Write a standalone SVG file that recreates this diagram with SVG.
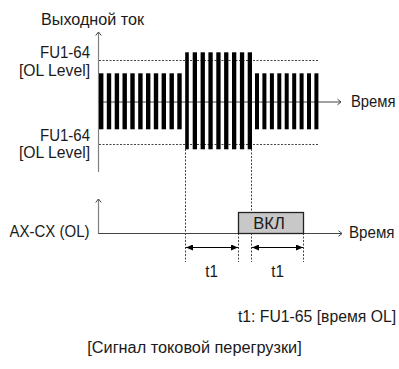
<svg xmlns="http://www.w3.org/2000/svg" width="399" height="369" viewBox="0 0 399 369">
<defs>
<marker id="open" markerWidth="7" markerHeight="8" refX="5" refY="4" orient="auto" markerUnits="userSpaceOnUse"><path d="M1.5,1.2 L5,4 L1.5,6.8" fill="none" stroke="#444" stroke-width="1"/></marker>
<marker id="solid" markerWidth="7" markerHeight="6" refX="7" refY="3" orient="auto-start-reverse" markerUnits="userSpaceOnUse"><path d="M0,0 L7,3 L0,6 z" fill="#000"/></marker>
</defs>
<style>
.t{font-family:"Liberation Sans","Noto Sans",sans-serif;font-size:16px;fill:#1a1a1a}
.dot{stroke:#444;stroke-width:1;stroke-dasharray:2 1.5;fill:none}
.bar{fill:#000}
.ax{stroke:#808080;stroke-width:1.2;fill:none}
.axh{stroke:#444;stroke-width:1.2;fill:none}
</style>
<g id="upper-chart">
<line class="dot" x1="99" y1="60.5" x2="319" y2="60.5"/>
<line class="dot" x1="99" y1="144.5" x2="319" y2="144.5"/>
<line class="ax" x1="98.5" y1="172" x2="98.5" y2="32" marker-end="url(#open)"/>
<line class="axh" x1="98.5" y1="102" x2="341" y2="102" marker-end="url(#open)"/>
<g id="pulses">
<rect class="bar" x="99" y="73.3" width="4.4" height="56"/>
<rect class="bar" x="106.8" y="73.3" width="4.4" height="56"/>
<rect class="bar" x="114.7" y="73.3" width="4.4" height="56"/>
<rect class="bar" x="122.5" y="73.3" width="4.4" height="56"/>
<rect class="bar" x="130.3" y="73.3" width="4.4" height="56"/>
<rect class="bar" x="138.2" y="73.3" width="4.4" height="56"/>
<rect class="bar" x="146" y="73.3" width="4.4" height="56"/>
<rect class="bar" x="153.8" y="73.3" width="4.4" height="56"/>
<rect class="bar" x="161.6" y="73.3" width="4.4" height="56"/>
<rect class="bar" x="169.5" y="73.3" width="4.4" height="56"/>
<rect class="bar" x="177.3" y="73.3" width="4.4" height="56"/>
<rect class="bar" x="185.2" y="52.3" width="3.6" height="97"/>
<rect class="bar" x="192.7" y="52.3" width="4.3" height="97"/>
<rect class="bar" x="200.6" y="52.3" width="4.3" height="97"/>
<rect class="bar" x="208.4" y="52.3" width="4.3" height="97"/>
<rect class="bar" x="216.3" y="52.3" width="4.3" height="97"/>
<rect class="bar" x="224.1" y="52.3" width="4.3" height="97"/>
<rect class="bar" x="232" y="52.3" width="4.3" height="97"/>
<rect class="bar" x="239.9" y="52.3" width="4.3" height="97"/>
<rect class="bar" x="247.7" y="52.3" width="4.3" height="97"/>
<rect class="bar" x="255" y="73.3" width="4" height="56"/>
<rect class="bar" x="262.4" y="73.3" width="4" height="56"/>
<rect class="bar" x="269.9" y="73.3" width="4" height="56"/>
<rect class="bar" x="277.3" y="73.3" width="4" height="56"/>
<rect class="bar" x="284.7" y="73.3" width="4" height="56"/>
<rect class="bar" x="292.2" y="73.3" width="4" height="56"/>
<rect class="bar" x="299.6" y="73.3" width="4" height="56"/>
<rect class="bar" x="307" y="73.3" width="4" height="56"/>
<rect class="bar" x="314.4" y="73.3" width="4" height="56"/>
</g>
<text class="t" x="41" y="25" textLength="103" lengthAdjust="spacingAndGlyphs">Выходной ток</text>
<text class="t" x="40" y="57.5" textLength="50" lengthAdjust="spacingAndGlyphs">FU1-64</text>
<text class="t" x="19" y="75.5" textLength="71" lengthAdjust="spacingAndGlyphs">[OL Level]</text>
<text class="t" x="40" y="140.5" textLength="50" lengthAdjust="spacingAndGlyphs">FU1-64</text>
<text class="t" x="19" y="158" textLength="71" lengthAdjust="spacingAndGlyphs">[OL Level]</text>
<text class="t" x="351" y="107" textLength="44.5" lengthAdjust="spacingAndGlyphs">Время</text>
</g>
<g id="connectors">
<line class="dot" x1="185.5" y1="149" x2="185.5" y2="262"/>
<line class="dot" x1="251.5" y1="149" x2="251.5" y2="262"/>
<line class="dot" x1="238.5" y1="233" x2="238.5" y2="262"/>
<line class="dot" x1="303.5" y1="233" x2="303.5" y2="262"/>
<line x1="186" y1="247.5" x2="238" y2="247.5" stroke="#000" stroke-width="1" marker-start="url(#solid)" marker-end="url(#solid)"/>
<line x1="252" y1="247.5" x2="303" y2="247.5" stroke="#000" stroke-width="1" marker-start="url(#solid)" marker-end="url(#solid)"/>
</g>
<g id="lower-chart">
<line class="ax" x1="98.5" y1="234" x2="98.5" y2="199" marker-end="url(#open)"/>
<line class="axh" x1="98.5" y1="233.5" x2="342" y2="233.5" marker-end="url(#open)"/>
<text class="t" x="9.5" y="237" textLength="80" lengthAdjust="spacingAndGlyphs">AX-CX (OL)</text>
<text class="t" x="349" y="238" textLength="45.5" lengthAdjust="spacingAndGlyphs">Время</text>
</g>
<g id="on-box">
<rect x="238.5" y="212.5" width="65" height="21" fill="#c8c8c8" stroke="#222" stroke-width="1.3"/>
<text class="t" x="269" y="228.5" text-anchor="middle" textLength="31.5" lengthAdjust="spacingAndGlyphs">ВКЛ</text>
</g>
<g id="labels">
<text class="t" x="211.7" y="276.7" text-anchor="middle" textLength="12.7" lengthAdjust="spacingAndGlyphs">t1</text>
<text class="t" x="277.6" y="276.7" text-anchor="middle" textLength="12.7" lengthAdjust="spacingAndGlyphs">t1</text>
<text class="t" x="238" y="322" textLength="158" lengthAdjust="spacingAndGlyphs">t1: FU1-65 [время OL]</text>
<text class="t" x="87.3" y="353" textLength="214.4" lengthAdjust="spacingAndGlyphs">[Сигнал токовой перегрузки]</text>
</g>
</svg>
